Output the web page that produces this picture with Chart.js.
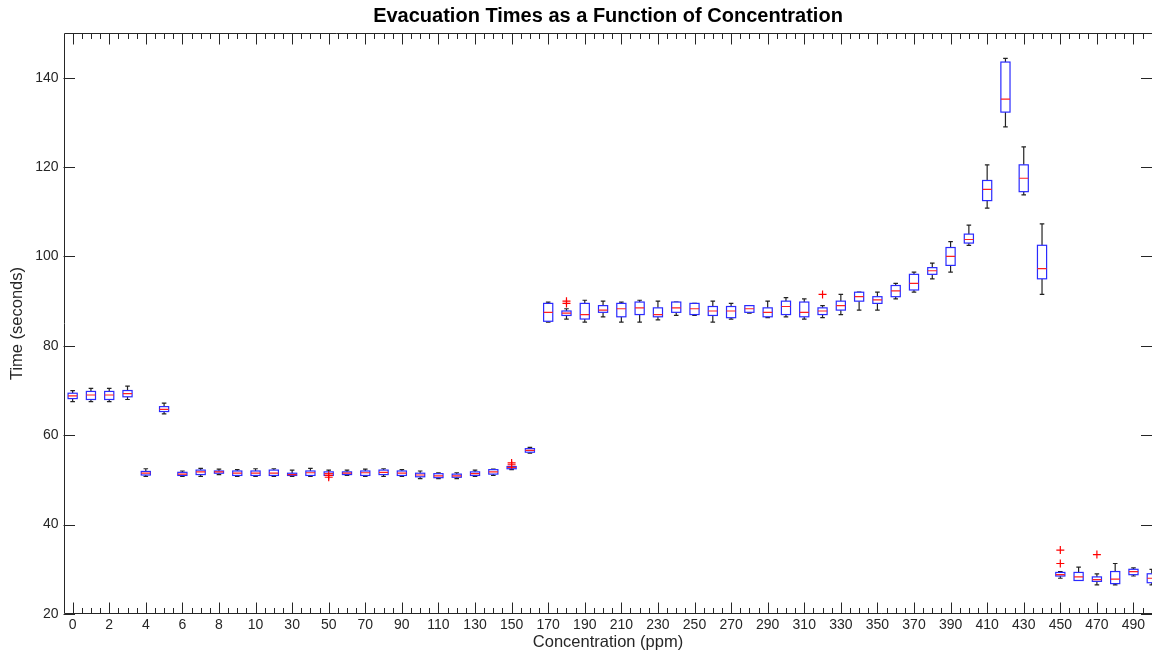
<!DOCTYPE html>
<html>
<head>
<meta charset="utf-8">
<script src="https://cdn.jsdelivr.net/npm/chart.js@4.4.1/dist/chart.umd.min.js"></script>
<style>
  html, body { margin: 0; padding: 0; overflow: hidden; background: #fff; }
  canvas { display: block; }
</style>
</head>
<body>
<canvas id="chart" width="1160" height="650"></canvas>
<script>
// concentration groups (ppm)
const categories = [0, 1, 2, 3, 4, 5, 6, 7, 8, 9, 10,
    20, 30, 40, 50, 60, 70, 80, 90, 100, 110, 120, 130, 140, 150, 160,
    170, 180, 190, 200, 210, 220, 230, 240, 250, 260, 270, 280, 290, 300,
    310, 320, 330, 340, 350, 360, 370, 380, 390, 400, 410, 420, 430, 440,
    450, 460, 470, 480, 490, 500];

// box statistics per group (seconds)
const whiskerLow = [67.5, 67.5, 67.5, 68, 50.8, 64.8, 50.8, 50.8, 51.2, 50.8, 50.8,
    50.8, 50.8, 50.8, 51, 51, 50.8, 50.8, 50.8, 50.3, 50.3, 50.3, 50.8, 51, 52.3, 56,
    85.3, 86, 85.3, 86.5, 85.3, 85.3, 85.8, 86.8, 86.8, 85.3, 86, 87.3, 86.3, 86.5,
    86, 86.3, 87, 88, 88, 90.5, 92, 95, 96.5, 102.5, 110.8, 129, 113.8, 91.5,
    28, 27.5, 26.5, 26.5, 28.5, 26.5];
const q1 = [68.2, 68, 68, 68.6, 51.1, 65.3, 51, 51.2, 51.5, 51, 51,
    51, 51, 51, 51, 51.2, 51, 51.2, 51, 50.7, 50.5, 50.6, 51, 51.3, 52.5, 56.2,
    85.5, 86.8, 86, 87.5, 86.5, 87, 86.5, 87.5, 87, 86.8, 86.3, 87.5, 86.5, 87,
    86.5, 87, 88, 90, 89.5, 91, 92.5, 96, 98, 103, 112.5, 132.3, 114.5, 95,
    28.5, 27.5, 27.3, 26.8, 28.8, 27];
const medians = [68.8, 69, 69, 69.3, 51.5, 65.8, 51.3, 51.8, 51.8, 51.5, 51.5,
    51.5, 51.2, 51.6, 51.4, 51.5, 51.6, 51.7, 51.5, 51.1, 50.9, 50.9, 51.4, 51.8, 52.8, 56.6,
    87.5, 87.3, 87, 88, 88.3, 88.5, 87, 88.5, 88.3, 87.8, 87.8, 88.3, 87.5, 88.8,
    87.5, 87.8, 89, 91, 90.3, 92.3, 94, 96.8, 100, 103.8, 115, 135.2, 117.5, 97.3,
    28.8, 28.3, 27.7, 27.8, 29.5, 28];
const q3 = [69.4, 69.8, 69.8, 70, 51.9, 66.4, 51.7, 52.2, 52, 52, 52,
    52.2, 51.5, 52, 51.8, 51.8, 52, 52.2, 52, 51.5, 51.4, 51.3, 51.8, 52.3, 53, 57,
    89.5, 87.8, 89.5, 89, 89.5, 89.8, 88.5, 89.8, 89.5, 88.8, 88.8, 89, 88.5, 90,
    89.8, 88.5, 90, 92, 91, 93.5, 96, 97.5, 102, 105, 117, 143.5, 120.5, 102.5,
    29.3, 29.3, 28.3, 29.5, 30, 29];
const whiskerHigh = [70, 70.5, 70.5, 71, 52.5, 67.2, 52, 52.6, 52.4, 52.3, 52.5,
    52.5, 52.2, 52.6, 52.2, 52.2, 52.4, 52.5, 52.3, 52, 51.6, 51.6, 52.2, 52.4, 53, 57.3,
    89.8, 88.3, 90.2, 90, 89.8, 90.2, 90, 89.8, 89.5, 90, 89.5, 89, 90, 90.8,
    90.5, 89, 91.5, 92, 92, 94, 96.5, 98.5, 103.3, 107, 120.5, 144.3, 124.5, 107.3,
    29.5, 30.5, 29, 31.3, 30.3, 30];

// points beyond the whiskers: group index and value
const outlierGroup = [14, 14, 24, 24, 27, 27, 41, 54, 54, 56];
const outlierValue = [50.6, 51.0, 53.4, 53.8, 89.5, 90, 91.5, 31.3, 34.3, 33.3];

const yTicks = [20, 40, 60, 80, 100, 120, 140];

const axisColor = '#262626';
const fontFamily = '"Liberation Sans", Arial, Helvetica, sans-serif';

const boxPlugin = {
    id: 'boxes',
    beforeDatasetsDraw(chart) {
        const { ctx, chartArea, scales: { x, y } } = chart;
        const step = x.getPixelForValue(1) - x.getPixelForValue(0);
        const halfBox = step * 0.25;
        const halfCap = step * 0.125;
        ctx.save();
        ctx.beginPath();
        ctx.rect(chartArea.left, chartArea.top, chartArea.right - chartArea.left, chartArea.bottom - chartArea.top);
        ctx.clip();
        ctx.lineWidth = 1.2;
        categories.forEach((c, i) => {
            const cx = x.getPixelForValue(i);
            const yLo = y.getPixelForValue(whiskerLow[i]);
            const yQ1 = y.getPixelForValue(q1[i]);
            const yMed = y.getPixelForValue(medians[i]);
            const yQ3 = y.getPixelForValue(q3[i]);
            const yHi = y.getPixelForValue(whiskerHigh[i]);

            // whiskers and caps
            ctx.strokeStyle = '#222';
            ctx.beginPath();
            ctx.moveTo(cx, yQ3); ctx.lineTo(cx, yHi);
            ctx.moveTo(cx, yQ1); ctx.lineTo(cx, yLo);
            ctx.moveTo(cx - halfCap, yHi); ctx.lineTo(cx + halfCap, yHi);
            ctx.moveTo(cx - halfCap, yLo); ctx.lineTo(cx + halfCap, yLo);
            ctx.stroke();

            // box
            ctx.fillStyle = '#fff';
            ctx.fillRect(cx - halfBox, yQ3, halfBox * 2, yQ1 - yQ3);
            ctx.strokeStyle = '#2a2aff';
            ctx.strokeRect(cx - halfBox, yQ3, halfBox * 2, yQ1 - yQ3);

            // median
            ctx.strokeStyle = '#ff2020';
            ctx.beginPath();
            ctx.moveTo(cx - halfBox, yMed); ctx.lineTo(cx + halfBox, yMed);
            ctx.stroke();
        });
        ctx.restore();
    }
};

// axis box with inward ticks on all four sides
const framePlugin = {
    id: 'frame',
    afterDraw(chart) {
        const { ctx, chartArea: a, scales: { x, y } } = chart;
        const major = 11.5, minor = 6;
        ctx.save();
        ctx.strokeStyle = axisColor;
        ctx.lineWidth = 1;
        ctx.beginPath();
        ctx.rect(Math.round(a.left) + 0.5, Math.round(a.top) + 0.5,
            Math.round(a.right - a.left), Math.round(a.bottom - a.top) - 1);
        for (let v = 0; v <= categories.length - 1; v += 0.5) {
            const px = Math.round(x.getPixelForValue(v)) + 0.5;
            const len = (v % 2 === 0) ? major : minor;
            ctx.moveTo(px, a.bottom); ctx.lineTo(px, a.bottom - len);
            ctx.moveTo(px, a.top); ctx.lineTo(px, a.top + len);
        }
        yTicks.forEach(v => {
            const py = Math.round(y.getPixelForValue(v)) + 0.5;
            ctx.moveTo(a.left, py); ctx.lineTo(a.left + major, py);
            ctx.moveTo(a.right, py); ctx.lineTo(a.right - major, py);
        });
        ctx.stroke();
        ctx.restore();
    }
};

new Chart(document.getElementById('chart').getContext('2d'), {
    type: 'scatter',
    data: {
        datasets: [{
            label: 'Outliers',
            data: outlierGroup.map((g, i) => ({ x: g, y: outlierValue[i] })),
            pointStyle: 'cross',
            pointRadius: 4,
            borderColor: '#ff0000',
            borderWidth: 1.2,
            backgroundColor: '#ff0000'
        }]
    },
    options: {
        responsive: false,
        animation: false,
        layout: { padding: { left: 0, right: 7.5, top: 0, bottom: 0 } },
        plugins: {
            legend: { display: false },
            tooltip: { enabled: false },
            title: {
                display: true,
                fullSize: false,
                text: 'Evacuation Times as a Function of Concentration',
                color: '#000',
                font: { family: fontFamily, size: 20, weight: 'bold' },
                padding: { top: 4.5, bottom: 4.5 }
            }
        },
        scales: {
            x: {
                type: 'linear',
                min: -0.5,
                max: 59.04,
                grid: { display: false, drawTicks: false },
                border: { display: false },
                afterBuildTicks: scale => {
                    scale.ticks = categories.map((c, i) => ({ value: i })).filter(t => t.value % 2 === 0);
                },
                afterFit: scale => { scale.height = 36; },
                ticks: {
                    autoSkip: false,
                    maxRotation: 0,
                    padding: 3,
                    color: axisColor,
                    font: { family: fontFamily, size: 14 },
                    callback: v => categories[v]
                },
                title: {
                    display: true,
                    text: 'Concentration (ppm)',
                    color: axisColor,
                    font: { family: fontFamily, size: 16.5 },
                    padding: { top: 0, bottom: -2 }
                }
            },
            y: {
                min: 20,
                max: 150,
                grid: { display: false, drawTicks: false },
                border: { display: false },
                afterBuildTicks: scale => {
                    scale.ticks = yTicks.map(v => ({ value: v }));
                },
                afterFit: scale => { scale.width = 63.5; },
                ticks: {
                    padding: 5,
                    color: axisColor,
                    font: { family: fontFamily, size: 14 }
                },
                title: {
                    display: true,
                    text: 'Time (seconds)',
                    color: axisColor,
                    font: { family: fontFamily, size: 16.5 },
                    padding: { top: 8, bottom: 0 }
                }
            }
        }
    },
    plugins: [boxPlugin, framePlugin]
});
</script>
</body>
</html>
